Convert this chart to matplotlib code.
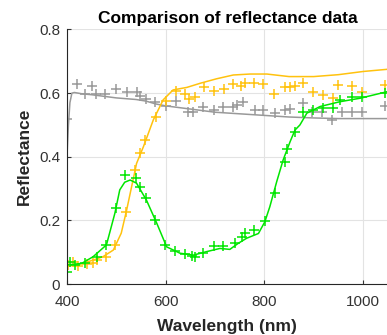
import matplotlib
matplotlib.use("Agg")
import matplotlib.pyplot as plt

plt.rcParams['font.family'] = ['Liberation Sans', 'DejaVu Sans']

# measured curves (lines)
gray_wl = [400, 403, 406, 410, 415, 430, 450, 500, 540, 560, 580, 600, 650, 700, 750, 800, 850, 900, 950, 1000, 1050]
gray_r = [0.40, 0.50, 0.57, 0.60, 0.602, 0.598, 0.595, 0.585, 0.58, 0.575, 0.566, 0.56, 0.55, 0.54, 0.535, 0.53, 0.525, 0.522, 0.52, 0.52, 0.52]

yellow_wl = [400, 433, 473, 494, 510, 521, 531, 541, 555, 575, 595, 615, 643, 670, 703, 737, 771, 805, 850, 900, 950, 1000, 1050]
yellow_r = [0.055, 0.065, 0.086, 0.107, 0.16, 0.233, 0.306, 0.379, 0.432, 0.516, 0.579, 0.61, 0.618, 0.631, 0.645, 0.657, 0.66, 0.66, 0.652, 0.652, 0.658, 0.668, 0.675]

green_wl = [400, 430, 453, 480, 497, 507, 517, 528, 541, 561, 582, 602, 629, 656, 683, 710, 730, 747, 764, 788, 801, 811, 825, 838, 852, 862, 872, 886, 913, 953, 994, 1050]
green_r = [0.06, 0.065, 0.086, 0.123, 0.222, 0.296, 0.32, 0.327, 0.317, 0.264, 0.191, 0.117, 0.097, 0.091, 0.102, 0.112, 0.109, 0.128, 0.144, 0.159, 0.196, 0.243, 0.322, 0.39, 0.447, 0.484, 0.5, 0.537, 0.558, 0.573, 0.584, 0.605]

# reference points (markers)
gray_pts_wl = [400, 420, 436, 450, 459, 477, 499, 521, 541, 548, 560, 578, 600, 621, 645, 655, 676, 698, 717, 737, 745, 757, 781, 798, 821, 842, 852, 879, 896, 917, 936, 957, 977, 997, 1044]
gray_pts_r = [0.518, 0.629, 0.597, 0.623, 0.597, 0.597, 0.613, 0.603, 0.603, 0.592, 0.582, 0.572, 0.561, 0.576, 0.542, 0.542, 0.556, 0.547, 0.556, 0.556, 0.563, 0.573, 0.547, 0.547, 0.537, 0.547, 0.549, 0.568, 0.542, 0.542, 0.516, 0.542, 0.542, 0.542, 0.558]

yellow_pts_wl = [403, 413, 423, 440, 453, 460, 480, 497, 520, 538, 548, 558, 580, 601, 621, 639, 648, 659, 678, 698, 718, 737, 752, 761, 778, 798, 820, 842, 851, 862, 879, 899, 919, 940, 950, 977, 997, 1044]
yellow_pts_r = [0.06, 0.07, 0.056, 0.063, 0.067, 0.075, 0.084, 0.123, 0.227, 0.358, 0.411, 0.453, 0.524, 0.576, 0.608, 0.597, 0.582, 0.587, 0.619, 0.608, 0.612, 0.629, 0.621, 0.633, 0.631, 0.629, 0.597, 0.619, 0.619, 0.621, 0.631, 0.605, 0.594, 0.584, 0.626, 0.621, 0.605, 0.626]

green_pts_wl = [400, 406, 416, 437, 460, 480, 499, 518, 540, 549, 560, 578, 599, 619, 639, 653, 659, 676, 697, 717, 740, 754, 761, 779, 801, 822, 842, 846, 862, 879, 899, 919, 940, 953, 977, 997, 1044]
green_pts_r = [0.039, 0.07, 0.06, 0.065, 0.086, 0.123, 0.238, 0.343, 0.332, 0.306, 0.269, 0.201, 0.123, 0.105, 0.096, 0.088, 0.086, 0.098, 0.119, 0.119, 0.13, 0.147, 0.159, 0.17, 0.199, 0.287, 0.385, 0.424, 0.479, 0.542, 0.547, 0.552, 0.552, 0.579, 0.589, 0.589, 0.6]

c_gray = '#999999'
c_yellow = '#FFC20E'
c_green = '#00E600'

fig = plt.figure(figsize=(3.87, 3.35), dpi=100)
ax = fig.add_axes([0.173, 0.152, 0.829, 0.760])

ax.plot(gray_wl, gray_r, color=c_gray, lw=1.1)
ax.plot(gray_pts_wl, gray_pts_r, '+', color=c_gray, ms=7, mew=1.1)
ax.plot(yellow_wl, yellow_r, color=c_yellow, lw=1.1)
ax.plot(yellow_pts_wl, yellow_pts_r, '+', color=c_yellow, ms=7, mew=1.1)
ax.plot(green_wl, green_r, color=c_green, lw=1.1)
ax.plot(green_pts_wl, green_pts_r, '+', color=c_green, ms=7, mew=1.1)

ax.set_xlim(400, 1050)
ax.set_ylim(0, 0.8)
ax.set_xticks([400, 600, 800, 1000])
ax.set_yticks([0, 0.2, 0.4, 0.6, 0.8])
ax.set_yticklabels(['0', '0.2', '0.4', '0.6', '0.8'])
ax.grid(True, color='#e3e3e3', lw=0.8)
ax.set_axisbelow(True)
ax.tick_params(direction='in', labelsize=11, colors='#333333', length=3)
ax.tick_params(axis='x', pad=8)
ax.tick_params(axis='y', pad=5)
for s in ['top', 'right']:
    ax.spines[s].set_visible(False)
for s in ['left', 'bottom']:
    ax.spines[s].set_color('#262626')

ax.set_title('Comparison of reflectance data', fontsize=12.5, fontweight='bold', pad=5)
ax.set_xlabel('Wavelength (nm)', fontsize=12.5, fontweight='bold', color='#262626', labelpad=7)
ax.set_ylabel('Reflectance', fontsize=12.5, fontweight='bold', color='#262626', labelpad=5)

fig.savefig('out.png', dpi=100)
